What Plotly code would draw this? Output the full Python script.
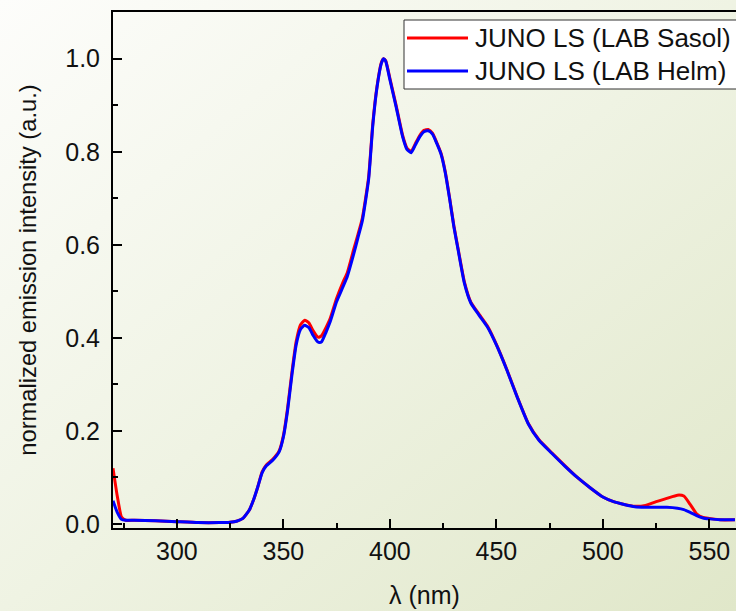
import base64
import plotly.graph_objects as go

# Emission spectra of JUNO liquid scintillator for two LAB suppliers
wavelength_nm = [270, 272, 274, 276, 280, 290, 300, 310, 320, 325, 328, 331, 334, 336, 338,
                 340, 342, 345, 348, 350, 352, 354, 356, 358, 360, 362, 364, 366, 367, 368,
                 370, 372, 375, 378, 380, 383, 385, 387, 390, 392, 394, 396, 397, 398, 400,
                 403, 406, 408, 410, 412, 414, 416, 418, 420, 422, 424, 426, 428, 430, 432,
                 435, 438, 442, 446, 450, 455, 460, 465, 470, 476, 482, 488, 494, 500, 505,
                 510, 515, 520, 525, 530, 535, 538, 541, 544, 547, 550, 555, 562]

intensity_sasol = [0.120, 0.060, 0.015, 0.008, 0.008, 0.007, 0.005, 0.003, 0.003, 0.004, 0.006, 0.012, 0.030, 0.052, 0.080,
                   0.112, 0.127, 0.139, 0.157, 0.190, 0.250, 0.326, 0.392, 0.428, 0.438, 0.432, 0.415, 0.402, 0.402, 0.405,
                   0.422, 0.442, 0.485, 0.520, 0.540, 0.590, 0.622, 0.656, 0.745, 0.862, 0.942, 0.992, 1.000, 0.996, 0.958,
                   0.898, 0.835, 0.808, 0.801, 0.818, 0.835, 0.846, 0.848, 0.840, 0.820, 0.797, 0.757, 0.702, 0.642, 0.592,
                   0.520, 0.477, 0.450, 0.424, 0.386, 0.331, 0.271, 0.216, 0.181, 0.153, 0.126, 0.100, 0.078, 0.058, 0.048,
                   0.042, 0.038, 0.040, 0.048, 0.055, 0.062, 0.060, 0.042, 0.022, 0.014, 0.012, 0.009, 0.009]

intensity_helm = [0.050, 0.025, 0.010, 0.008, 0.008, 0.007, 0.005, 0.003, 0.003, 0.004, 0.006, 0.012, 0.030, 0.052, 0.080,
                  0.110, 0.125, 0.137, 0.155, 0.187, 0.245, 0.320, 0.385, 0.418, 0.427, 0.422, 0.405, 0.392, 0.390, 0.392,
                  0.412, 0.435, 0.478, 0.510, 0.532, 0.580, 0.615, 0.650, 0.740, 0.858, 0.940, 0.990, 1.000, 0.995, 0.955,
                  0.895, 0.832, 0.805, 0.798, 0.815, 0.832, 0.843, 0.845, 0.838, 0.818, 0.795, 0.755, 0.700, 0.640, 0.590,
                  0.517, 0.475, 0.448, 0.422, 0.385, 0.330, 0.270, 0.215, 0.180, 0.152, 0.125, 0.100, 0.078, 0.058, 0.048,
                  0.042, 0.037, 0.036, 0.036, 0.036, 0.034, 0.031, 0.025, 0.018, 0.013, 0.011, 0.009, 0.009]

series_names = ["JUNO LS (LAB Sasol)", "JUNO LS (LAB Helm)"]
series_colors = ["#ff0000", "#0000ff"]
series_values = [intensity_sasol, intensity_helm]

x_tick_values = [300, 350, 400, 450, 500, 550]
y_tick_values = [0.0, 0.2, 0.4, 0.6, 0.8, 1.0]

W, H = 736, 611
ML, MR, MT, MB = 113, 0, 12, 83
PW, PH = W - ML - MR, H - MT - MB

FONT = "Liberation Sans, Arial, sans-serif"
TXT = "#111111"

fig = go.Figure()
for name, color, vals in zip(series_names, series_colors, series_values):
    fig.add_trace(go.Scatter(
        x=wavelength_nm, y=vals, name=name, mode="lines",
        line=dict(color=color, width=3, shape="spline", smoothing=0.5),
        showlegend=False,
    ))

# diagonal background gradient for the whole canvas
svg = (
    f'<svg xmlns="http://www.w3.org/2000/svg" width="{W}" height="{H}">'
    '<defs><linearGradient id="g" x1="0" y1="0" x2="1" y2="1">'
    '<stop offset="0" stop-color="#fdfdfb"/>'
    '<stop offset="0.5" stop-color="#eff3e3"/>'
    '<stop offset="1" stop-color="#e0e7c9"/>'
    '</linearGradient></defs>'
    f'<rect width="{W}" height="{H}" fill="url(#g)"/></svg>'
)
bg_uri = "data:image/svg+xml;base64," + base64.b64encode(svg.encode()).decode()
fig.add_layout_image(dict(
    source=bg_uri, xref="paper", yref="paper",
    x=-ML / PW, y=1 + MT / PH, sizex=W / PW, sizey=H / PH,
    xanchor="left", yanchor="top", sizing="stretch", layer="below",
))

# legend box with long line samples
lx0, lx1 = (404 - ML) / PW, 1.05
ly_top, ly_bot = (H - MB - 20) / PH, (H - MB - 89) / PH
shapes = [dict(type="rect", xref="paper", yref="paper", x0=lx0, x1=lx1, y0=ly_bot, y1=ly_top,
               fillcolor="white", line=dict(color="#333333", width=1))]
annotations = []
row_px = [38, 71]
for name, color, ry in zip(series_names, series_colors, row_px):
    yy = (H - MB - ry) / PH
    shapes.append(dict(type="line", xref="paper", yref="paper",
                       x0=(407 - ML) / PW, x1=(468 - ML) / PW, y0=yy, y1=yy,
                       line=dict(color=color, width=3)))
    annotations.append(dict(xref="paper", yref="paper", x=(473 - ML) / PW, y=yy,
                            xanchor="left", yanchor="middle", text=name, showarrow=False,
                            font=dict(family=FONT, size=26, color=TXT)))

axis_common = dict(
    showline=True, linecolor="black", linewidth=2, mirror=True,
    ticks="inside", ticklen=9, tickwidth=2, tickcolor="black",
    showgrid=False, zeroline=False,
    tickfont=dict(family=FONT, size=25, color=TXT),
)

fig.update_layout(
    width=W, height=H,
    margin=dict(l=ML, r=MR, t=MT, b=MB, autoexpand=False),
    paper_bgcolor="rgba(0,0,0,0)", plot_bgcolor="rgba(0,0,0,0)",
    shapes=shapes, annotations=annotations,
    xaxis=dict(
        **axis_common, range=[270, 562.5], tickvals=x_tick_values,
        minor=dict(dtick=25, tick0=275, ticks="inside", ticklen=5, tickwidth=2, tickcolor="black"),
        title=dict(text="λ (nm)", font=dict(family=FONT, size=25, color=TXT), standoff=22),
    ),
    yaxis=dict(
        **axis_common, range=[-0.0086, 1.1004], tickvals=y_tick_values, tickformat=".1f",
        ticklabelstandoff=6,
        minor=dict(dtick=0.1, tick0=0, ticks="inside", ticklen=5, tickwidth=2, tickcolor="black"),
        title=dict(text="normalized emission intensity (a.u.)",
                   font=dict(family=FONT, size=23.7, color=TXT), standoff=22),
    ),
)

fig.write_html("out.html")
